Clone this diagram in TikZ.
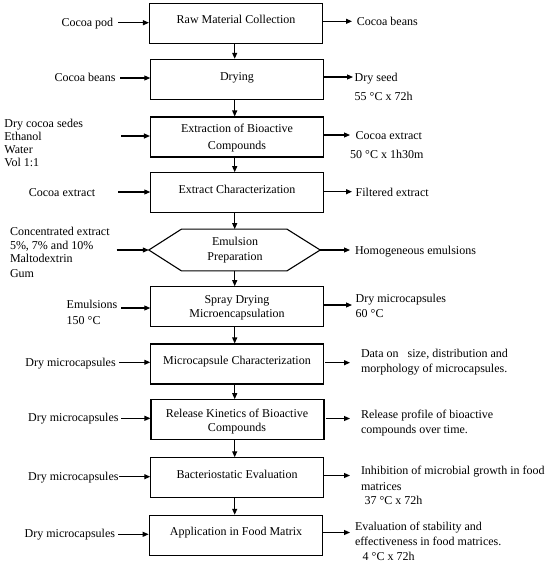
\documentclass[tikz,border=0pt]{standalone}
\usepackage{fontspec}
\setmainfont{Liberation Serif}
\usetikzlibrary{arrows.meta}
\begin{document}
\begin{tikzpicture}[x=1pt,y=-1pt,
  box/.style={draw,line width=1.1pt,minimum width=173pt,minimum height=40pt,inner sep=0pt},
  hexarea/.style={minimum width=171pt,minimum height=41.4pt,inner sep=0pt},
  hexline/.style={draw,line width=1.1pt,line join=miter},
  txt/.style={inner sep=0pt,font=\fontsize{12}{14}\selectfont},
  intxt/.style={txt,anchor=base},
  ltxt/.style={txt,anchor=base west},
  arr/.style={line width=1.1pt,-{Triangle[length=6pt,width=5pt]}},
]
\useasboundingbox (0,0) rectangle (550,566);
\fill[white] (0,0) rectangle (550,566);

% process boxes
\node[box] (b1) at (236,23.3) {};
\node[box] (b2) at (237.3,79.3) {};
\node[box] (b3) at (237,137) {};
\node[box] (b4) at (237.3,192.7) {};
\node[hexarea] (hex) at (234.5,250) {};
\draw[hexline] (hex.west) -- ([xshift=32.7pt]hex.north west) -- ([xshift=-33.3pt]hex.north east)
  -- (hex.east) -- ([xshift=-33.3pt]hex.south east) -- ([xshift=32.7pt]hex.south west) -- cycle;
\node[box] (b6) at (237.3,306.7) {};
\node[box] (b7) at (237.3,364) {};
\node[box] (b8) at (237.5,419.7) {};
\node[box] (b9) at (237.3,477.8) {};
\node[box] (b10) at (235.7,535.3) {};

% texts in boxes
\node[intxt] (t1) at (236,23) {Raw Material Collection};
\node[intxt] (t2) at (237,80) {Drying};
\node[intxt] (t3a) at (237,132) {Extraction of Bioactive};
\node[intxt] (t3b) at (237,149) {Compounds};
\node[intxt] (t4) at (237,193) {Extract Characterization};
\node[intxt] (t5a) at (235,245) {Emulsion};
\node[intxt] (t5b) at (235,260) {Preparation};
\node[intxt] (t6a) at (237,303) {Spray Drying};
\node[intxt] (t6b) at (237,317) {Microencapsulation};
\node[intxt] (t7) at (237,364) {Microcapsule Characterization};
\node[intxt] (t8a) at (237,417) {Release Kinetics of Bioactive};
\node[intxt] (t8b) at (237,431) {Compounds};
\node[intxt] (t9) at (237,478) {Bacteriostatic Evaluation};
\node[intxt] (t10) at (236,535) {Application in Food Matrix};

% vertical flow arrows
\coordinate (ax) at (234.7,0);
\draw[arr] (b1.south -| ax) -- (b2.north -| ax);
\draw[arr] (b2.south -| ax) -- (b3.north -| ax);
\draw[arr] (b3.south -| ax) -- (b4.north -| ax);
\draw[arr] (b4.south -| ax) -- (hex.north -| ax);
\draw[arr] (hex.south -| ax) -- (b6.north -| ax);
\draw[arr] (b6.south -| ax) -- (b7.north -| ax);
\draw[arr] (b7.south -| ax) -- (b8.north -| ax);
\draw[arr] (b8.south -| ax) -- (b9.north -| ax);
\draw[arr] (b9.south -| ax) -- (b10.north -| ax);

% left inputs
\coordinate (l1) at (118,22.7);
\coordinate (l2) at (120,78);
\coordinate (l3) at (121,136);
\coordinate (l4) at (118,192);
\coordinate (l5) at (116.6,250);
\coordinate (l6) at (121,308);
\coordinate (l7) at (119,362.3);
\coordinate (l8) at (121,418.3);
\coordinate (l9) at (119,476.7);
\coordinate (l10) at (118.4,534.3);
\draw[arr] (l1) -- (l1 -| b1.west);
\draw[arr] (l2) -- (l2 -| b2.west);
\draw[arr] (l3) -- (l3 -| b3.west);
\draw[arr] (l4) -- (l4 -| b4.west);
\draw[arr] (l5) -- (hex.west);
\draw[arr] (l6) -- (l6 -| b6.west);
\draw[arr] (l7) -- (l7 -| b7.west);
\draw[arr] (l8) -- (l8 -| b8.west);
\draw[arr] (l9) -- (l9 -| b9.west);
\draw[arr] (l10) -- (l10 -| b10.west);

% right outputs
\coordinate (r1) at (352,21.3);
\coordinate (r2) at (353,77);
\coordinate (r3) at (350,135);
\coordinate (r4) at (352,191.7);
\coordinate (r5) at (350,250);
\coordinate (r6) at (352,305);
\coordinate (r7) at (350,362.7);
\coordinate (r8) at (350,418.5);
\coordinate (r9) at (350,475.5);
\coordinate (r10) at (350,532.5);
\draw[arr] (r1 -| b1.east) -- (r1);
\draw[arr] (r2 -| b2.east) -- (r2);
\draw[arr] (r3 -| b3.east) -- (r3);
\draw[arr] (r4 -| b4.east) -- (r4);
\draw[arr] (hex.east) -- (r5);
\draw[arr] (r6 -| b6.east) -- (r6);
\draw[arr] ([xshift=1pt]r7 -| b7.east) -- (r7);
\draw[arr] ([xshift=1pt]r8 -| b8.east) -- (r8);
\draw[arr] (r9 -| b9.east) -- (r9);
\draw[arr] (r10 -| b10.east) -- (r10);

% left texts
\node[ltxt] (i1) at (61.3,26) {Cocoa pod};
\node[ltxt] (i2) at (54.3,81) {Cocoa beans};
\node[ltxt] (i3a) at (4.2,127.3) {Dry cocoa sedes};
\node[ltxt] (i3b) at (4.2,140.3) {Ethanol};
\node[ltxt] (i3c) at (4.2,153.5) {Water};
\node[ltxt] (i3d) at (4.2,166.7) {Vol 1:1};
\node[ltxt] (i4) at (28.7,196.3) {Cocoa extract};
\node[ltxt] (i5a) at (9.8,235) {Concentrated extract};
\node[ltxt] (i5b) at (9.8,249) {5\%, 7\% and 10\%};
\node[ltxt] (i5c) at (9.8,262.5) {Maltodextrin};
\node[ltxt] (i5d) at (9.8,277) {Gum};
\node[ltxt] (i6a) at (66.5,308) {Emulsions};
\node[ltxt] (i6b) at (66.5,324) {150 °C};
\node[ltxt] (i7) at (25.2,366.7) {Dry microcapsules};
\node[ltxt] (i8) at (28,421.7) {Dry microcapsules};
\node[ltxt] (i9) at (28,480.7) {Dry microcapsules};
\node[ltxt] (i10) at (24.5,537.5) {Dry microcapsules};

% right texts
\node[ltxt] (o1) at (356.6,25) {Cocoa beans};
\node[ltxt] (o2a) at (354.5,81.3) {Dry seed};
\node[ltxt] (o2b) at (354.5,100.7) {55 °C x 72h};
\node[ltxt] (o3a) at (355.5,139) {Cocoa extract};
\node[ltxt] (o3b) at (350,158) {50 °C x 1h30m};
\node[ltxt] (o4) at (355.5,196) {Filtered extract};
\node[ltxt] (o5) at (354.8,254) {Homogeneous emulsions};
\node[ltxt] (o6a) at (355.5,302.3) {Dry microcapsules};
\node[ltxt] (o6b) at (355.5,317.3) {60 °C};
\node[ltxt] (o7a) at (360.8,357.3) {Data on\ \ \ size, distribution and};
\node[ltxt] (o7b) at (360.8,372.3) {morphology of microcapsules.};
\node[ltxt] (o8a) at (360.8,418) {Release profile of bioactive};
\node[ltxt] (o8b) at (360.8,433.3) {compounds over time.};
\node[ltxt] (o9a) at (360.8,474.7) {Inhibition of microbial growth in food};
\node[ltxt] (o9b) at (360.8,490.7) {matrices};
\node[ltxt] (o9c) at (364.3,504.5) {37 °C x 72h};
\node[ltxt] (o10a) at (354.8,530.7) {Evaluation of stability and};
\node[ltxt] (o10b) at (354.8,545.7) {effectiveness in food matrices.};
\node[ltxt] (o10c) at (362.5,560.7) {4 °C x 72h};
\end{tikzpicture}
\end{document}
